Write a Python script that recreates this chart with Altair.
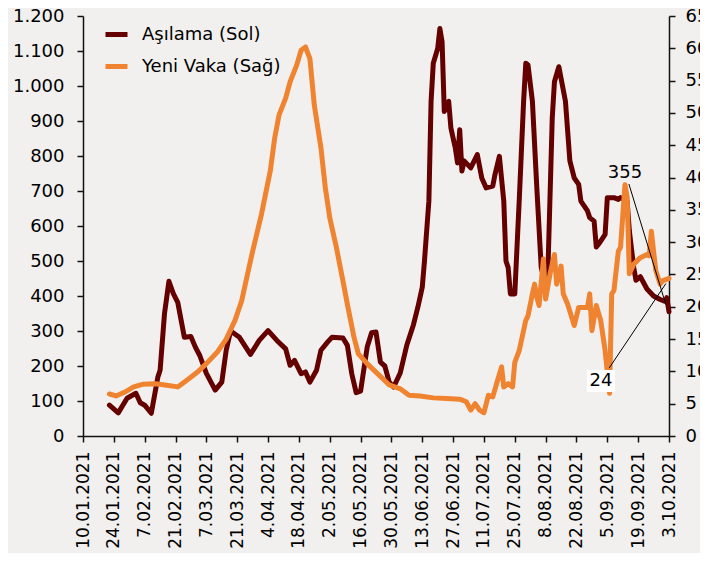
import altair as alt
import pandas as pd

START = pd.Timestamp("2021-01-10")

# Aşılama (left axis) - days since 10.01.2021 and values
asi_day = [12,16,20,24,26,28,31,34,35,37,39,41,43,46,49,51,53,56,60,63,65,67,71,76,80,84,88,92,94,96,
           99,101,103,106,108,111,113,118,120,122,124,126,129,131,133,135,137,139,141,144,147,150,152,154,155,
           157,158,159,161,162,163,164,166,167,169,170,171,172,173,176,179,181,183,186,187,189,191,192,193,194,
           196,198,200,201,202,204,206,208,210,211,213,214,216,219,221,223,225,226,229,230,232,233,234,235,237,
           238,241,243,244,247,248,250,251,253,256,259,262,264,265,266]
asi_val = [88,66,108,122,95,88,65,169,188,350,442,407,382,282,284,254,230,179,131,154,245,300,282,233,273,301,
           273,249,202,216,178,183,154,188,245,268,282,280,259,178,124,128,254,295,297,211,200,154,140,180,260,
           318,368,425,500,671,956,1065,1107,1164,1126,927,956,880,823,780,875,757,786,766,804,737,709,714,747,
           799,671,500,481,406,406,671,956,1065,1060,956,709,481,434,463,908,1012,1055,956,786,737,719,671,643,
           624,614,540,548,557,576,681,681,676,681,671,586,481,445,455,420,400,390,385,395,355]

# Yeni Vaka (right axis)
vaka_day = [12,15,19,23,27,33,38,43,47,52,56,61,65,69,72,74,77,81,85,87,89,92,94,97,99,101,103,105,108,110,
            112,115,118,120,123,125,129,132,136,139,144,148,153,159,165,171,174,176,178,180,182,184,186,188,190,
            191,193,195,196,198,201,202,204,205,206,207,209,210,212,214,215,217,218,220,223,225,229,230,231,233,
            235,237,239,240,241,243,244,246,247,248,250,253,256,257,258,259,260,262,263,266]
vaka_val = [6.5,6.2,6.8,7.6,8.0,8.1,7.85,7.6,8.6,9.9,11.2,13.0,15.0,17.9,20.9,24.0,28.6,34.3,41.0,46.1,49.7,
            52.3,54.8,57.4,59.7,60.2,58.4,51.2,44.6,38.4,33.8,29.2,24.0,20.4,15.3,12.7,11.2,10.2,8.9,7.9,7.3,
            6.3,6.2,5.9,5.8,5.7,5.3,4.0,5.0,4.0,3.6,6.3,6.05,8.4,10.7,7.6,8.1,7.6,11.4,13.2,17.9,18.6,22.0,
            23.5,21.5,20.2,27.4,21.2,25.1,28.1,23.5,26.3,22.0,20.4,17.1,19.9,19.9,22.0,16.3,20.2,17.9,13.2,
            6.6,22.0,22.5,28.6,29.2,38.9,37.0,25.1,26.6,27.6,28.1,27.9,31.7,28.6,25.6,23.5,24.0,24.4]

series_names = ["Aşılama (Sol)", "Yeni Vaka (Sağ)"]
series_colors = ["#650000", "#F0832F"]

tick_dates = ["2021-01-10", "2021-01-24", "2021-02-07", "2021-02-21", "2021-03-07", "2021-03-21",
              "2021-04-04", "2021-04-18", "2021-05-02", "2021-05-16", "2021-05-30", "2021-06-13",
              "2021-06-27", "2021-07-11", "2021-07-25", "2021-08-08", "2021-08-22", "2021-09-05",
              "2021-09-19", "2021-10-03"]
left_ticks = list(range(0, 1300, 100))
right_ticks = list(range(0, 70, 5))

# annotations (day offsets / values in axis units)
ann355_text = {"label": "355", "day": 246, "val": 751}
ann355_line = {"d1": 247.8, "v1": 720, "d2": 264.6, "v2": 375}
ann24_text = {"label": "24", "day": 235.1, "val": 8.5}
ann24_box = {"d1": 228.8, "v1": 6.8, "d2": 241.5, "v2": 10.2}
ann24_line = {"d1": 238.8, "v1": 10.5, "d2": 264.6, "v2": 23.6}


def to_date(d):
    return (START + pd.Timedelta(hours=24 * d)).strftime("%Y-%m-%dT%H:%M:%SZ")


df_asi = pd.DataFrame({"date": [to_date(d) for d in asi_day], "value": asi_val, "series": series_names[0]})
df_vaka = pd.DataFrame({"date": [to_date(d) for d in vaka_day], "value": vaka_val, "series": series_names[1]})


def dt(s):
    t = pd.Timestamp(s)
    return alt.DateTime(year=t.year, month=t.month, date=t.day, utc=True)


FONT = "DejaVu Sans"
xscale = alt.Scale(type="utc", domain=[dt(tick_dates[0]), dt(tick_dates[-1])], nice=False)
xaxis = alt.Axis(values=[dt(s) for s in tick_dates],
                 labelExpr="utcFormat(datum.value, '%-d.%m.%Y')",
                 labelAngle=270, labelAlign="right", labelBaseline="middle", labelFontSize=17,
                 labelPadding=9, tickSize=6, grid=False, labelOverlap=False, labelFlush=False)
yl_scale = alt.Scale(domain=[0, 1200], nice=False, zero=True)
yr_scale = alt.Scale(domain=[0, 65], nice=False, zero=True)
color_scale = alt.Scale(domain=series_names, range=series_colors)

legend = alt.Legend(orient="none", legendX=20, legendY=5, direction="vertical", title=None,
                    symbolType="stroke", symbolStrokeWidth=5, symbolSize=484, labelFontSize=18,
                    labelFont=FONT, labelColor="black", rowPadding=8, labelOffset=12, padding=0,
                    labelLimit=400)

line_kw = dict(strokeWidth=5, strokeJoin="round", strokeCap="round")

asi = alt.Chart(df_asi).mark_line(**line_kw).encode(
    x=alt.X("date:T", scale=xscale, axis=xaxis, title=None),
    y=alt.Y("value:Q", scale=yl_scale, title=None,
            axis=alt.Axis(orient="left", values=left_ticks, grid=False, tickSize=6, labelPadding=13,
                          labelFontSize=18,
                          labelExpr="replace(format(datum.value, ','), ',', '.')")),
    color=alt.Color("series:N", scale=color_scale, legend=legend),
)

vaka = alt.Chart(df_vaka).mark_line(**line_kw).encode(
    x=alt.X("date:T", scale=xscale, axis=xaxis, title=None),
    y=alt.Y("value:Q", scale=yr_scale, title=None,
            axis=alt.Axis(orient="right", values=right_ticks, grid=False, tickSize=6, labelPadding=10,
                          labelFontSize=18)),
    color=alt.Color("series:N", scale=color_scale, legend=legend),
)


def ann_df(d):
    out = dict(d)
    for k in ("day", "d1", "d2"):
        if k in out:
            out[k] = to_date(out[k])
    return pd.DataFrame([out])


t355 = alt.Chart(ann_df(ann355_text)).mark_text(fontSize=18, font=FONT, color="black").encode(
    x=alt.X("day:T", scale=xscale, axis=xaxis, title=None),
    y=alt.Y("val:Q", scale=yl_scale, axis=None),
    text="label:N",
)
l355 = alt.Chart(ann_df(ann355_line)).mark_rule(color="black", strokeWidth=1).encode(
    x=alt.X("d1:T", scale=xscale, axis=xaxis, title=None),
    x2="d2:T",
    y=alt.Y("v1:Q", scale=yl_scale, axis=None),
    y2="v2:Q",
)
b24 = alt.Chart(ann_df(ann24_box)).mark_rect(color="white").encode(
    x=alt.X("d1:T", scale=xscale, axis=xaxis, title=None),
    x2="d2:T",
    y=alt.Y("v1:Q", scale=yr_scale, axis=None),
    y2="v2:Q",
)
t24 = alt.Chart(ann_df(ann24_text)).mark_text(fontSize=18, font=FONT, color="black").encode(
    x=alt.X("day:T", scale=xscale, axis=xaxis, title=None),
    y=alt.Y("val:Q", scale=yr_scale, axis=None),
    text="label:N",
)
l24 = alt.Chart(ann_df(ann24_line)).mark_rule(color="black", strokeWidth=1).encode(
    x=alt.X("d1:T", scale=xscale, axis=xaxis, title=None),
    x2="d2:T",
    y=alt.Y("v1:Q", scale=yr_scale, axis=None),
    y2="v2:Q",
)

chart = alt.layer(asi, vaka, l355, t355, b24, t24, l24).resolve_scale(y="independent").properties(
    width=586, height=420,
    padding={"left": 75, "top": 8, "right": 31, "bottom": 117},
    autosize=alt.AutoSizeParams(type="none"),
).configure(
    background="#F2F0EE",
    font=FONT,
).configure_view(stroke=None).configure_axis(
    domainColor="#111111", domainWidth=1.5, tickColor="#111111", tickWidth=1.5,
    labelColor="black", labelFont=FONT,
)

chart.save("out.html", embed_options={"renderer": "svg", "actions": False})
